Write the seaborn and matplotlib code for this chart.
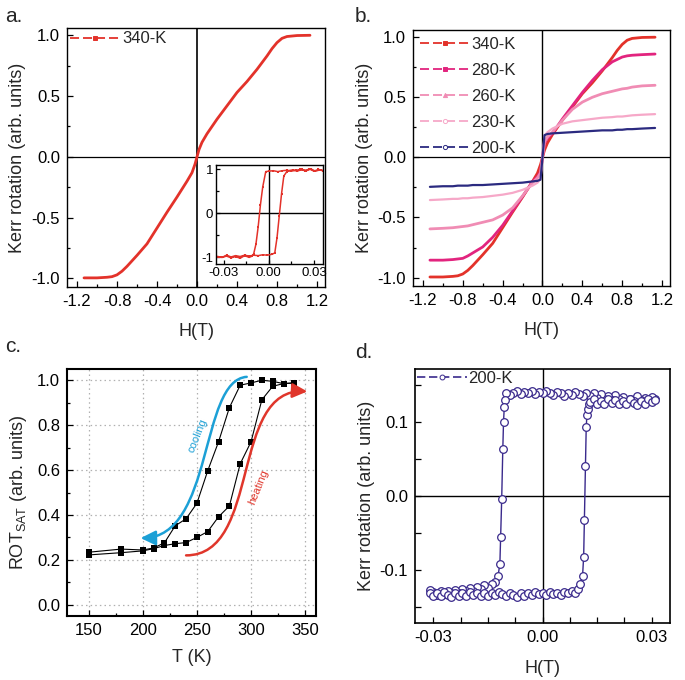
import numpy as np
import pandas as pd
import matplotlib
matplotlib.use('Agg')
import matplotlib.pyplot as plt
import seaborn as sns
from matplotlib.lines import Line2D
from matplotlib.patches import FancyArrowPatch
from matplotlib.path import Path
from matplotlib.ticker import MultipleLocator, AutoMinorLocator, FormatStrFormatter

# ---------------- data ----------------
# panels a/b : field sweep (T) and Kerr rotation
H_main = [-1.13, -1.0, -0.9, -0.85, -0.8, -0.75, -0.7, -0.6, -0.5, -0.4, -0.3, -0.2, -0.1, -0.05, -0.02,
          0.0, 0.02, 0.05, 0.1, 0.2, 0.3, 0.4, 0.5, 0.6, 0.7, 0.75, 0.8, 0.85, 0.9, 1.0, 1.13]
K340 = [-0.995, -0.995, -0.99, -0.985, -0.97, -0.94, -0.9, -0.81, -0.715, -0.585, -0.455, -0.33, -0.2, -0.13, -0.06,
        0.0, 0.06, 0.12, 0.19, 0.31, 0.42, 0.53, 0.62, 0.72, 0.83, 0.89, 0.94, 0.975, 0.99, 0.998, 1.0]
K280 = [-0.855, -0.855, -0.85, -0.845, -0.84, -0.82, -0.795, -0.745, -0.665, -0.565, -0.445, -0.325, -0.2, -0.16, -0.12,
        0.0, 0.12, 0.16, 0.2, 0.32, 0.43, 0.54, 0.64, 0.73, 0.795, 0.815, 0.835, 0.845, 0.85, 0.855, 0.86]
K260 = [-0.595, -0.59, -0.585, -0.58, -0.575, -0.57, -0.56, -0.54, -0.52, -0.48, -0.42, -0.32, -0.21, -0.17, -0.13,
        0.0, 0.13, 0.17, 0.21, 0.31, 0.40, 0.46, 0.50, 0.53, 0.55, 0.56, 0.57, 0.575, 0.585, 0.595, 0.60]
K230 = [-0.355, -0.35, -0.345, -0.345, -0.34, -0.34, -0.335, -0.33, -0.32, -0.31, -0.295, -0.27, -0.235, -0.21, -0.18,
        0.0, 0.18, 0.21, 0.24, 0.28, 0.30, 0.31, 0.32, 0.33, 0.335, 0.34, 0.34, 0.345, 0.35, 0.355, 0.36]
K200 = [-0.245, -0.24, -0.24, -0.235, -0.235, -0.235, -0.23, -0.23, -0.225, -0.22, -0.215, -0.21, -0.2, -0.195, -0.185,
        0.0, 0.185, 0.195, 0.2, 0.205, 0.21, 0.215, 0.22, 0.225, 0.225, 0.23, 0.23, 0.235, 0.235, 0.24, 0.245]
labels_b = ['340-K', '280-K', '260-K', '230-K', '200-K']

# inset of panel a (340-K, low field loop)
Hin_down = [0.036, 0.033, 0.030, 0.027, 0.024, 0.021, 0.018, 0.015, 0.012, 0.009, 0.006, 0.003, 0.000, -0.002,
            -0.004, -0.0055, -0.007, -0.0085, -0.010, -0.011, -0.013, -0.016, -0.019, -0.022, -0.025, -0.028, -0.031, -0.034]
Kin_down = [0.97, 1.0, 0.96, 1.01, 0.97, 1.0, 0.98, 0.96, 0.98, 0.97, 0.95, 0.97, 0.96, 0.95,
            0.6, 0.2, -0.3, -0.7, -0.92, -0.97, -1.0, -0.96, -1.02, -0.98, -1.01, -0.97, -1.0, -0.98]
Hin_up = [-0.034, -0.031, -0.028, -0.025, -0.022, -0.019, -0.016, -0.013, -0.010, -0.007, -0.004, -0.001,
          0.002, 0.004, 0.0055, 0.007, 0.0085, 0.010, 0.012, 0.013, 0.016, 0.019, 0.022, 0.025, 0.028, 0.031, 0.034, 0.036]
Kin_up = [-0.98, -1.0, -0.95, -0.99, -0.96, -0.98, -0.95, -0.97, -0.95, -0.96, -0.94, -0.95,
          -0.93, -0.9, -0.55, -0.05, 0.45, 0.85, 0.95, 0.97, 0.99, 0.96, 1.0, 0.97, 1.01, 0.96, 0.99, 0.97]

# panel c : saturation rotation vs temperature
T_heat = [150, 180, 200, 210, 220, 230, 240, 250, 260, 270, 280, 290, 300, 310, 320, 330, 340]
R_heat = [0.222, 0.232, 0.240, 0.250, 0.264, 0.272, 0.277, 0.300, 0.326, 0.392, 0.440, 0.628, 0.726, 0.913, 0.973, 0.985, 0.988]
T_cool = [340, 330, 320, 310, 300, 290, 280, 270, 260, 250, 240, 230, 220, 210, 200, 180, 150]
R_cool = [0.988, 0.985, 0.995, 1.0, 0.988, 0.978, 0.878, 0.726, 0.597, 0.452, 0.383, 0.352, 0.276, 0.253, 0.244, 0.248, 0.234]

# panel d : 200-K low-field loop
Hd_top_down = [0.031, 0.030, 0.029, 0.028, 0.027, 0.026, 0.025, 0.024, 0.023, 0.022, 0.021, 0.020, 0.019, 0.018,
               0.017, 0.016, 0.015, 0.014, 0.013, 0.012, 0.011, 0.010, 0.009, 0.008, 0.007, 0.006, 0.005, 0.004,
               0.003, 0.002, 0.001, 0.000, -0.001, -0.002, -0.003, -0.004, -0.005, -0.006, -0.007, -0.008, -0.009, -0.010]
Kd_top_down = [0.131, 0.134, 0.128, 0.133, 0.130, 0.136, 0.129, 0.132, 0.127, 0.134, 0.131, 0.137, 0.130, 0.135,
               0.132, 0.138, 0.133, 0.139, 0.135, 0.140, 0.136, 0.138, 0.141, 0.137, 0.140, 0.136, 0.139, 0.141,
               0.137, 0.140, 0.142, 0.139, 0.141, 0.138, 0.142, 0.139, 0.141, 0.138, 0.142, 0.140, 0.137, 0.139]
Hd_left = [-0.0104, -0.0105, -0.0107, -0.0109, -0.0112, -0.0115, -0.0117, -0.0122, -0.0130]
Kd_left = [0.130, 0.120, 0.100, 0.063, -0.004, -0.056, -0.092, -0.108, -0.117]
Hd_bot_down = [-0.014, -0.015, -0.016, -0.017, -0.018, -0.019, -0.020, -0.021, -0.022, -0.023, -0.024, -0.025,
               -0.026, -0.027, -0.028, -0.029, -0.030, -0.031]
Kd_bot_down = [-0.119, -0.124, -0.121, -0.126, -0.123, -0.128, -0.125, -0.129, -0.126, -0.131, -0.127, -0.132,
               -0.128, -0.133, -0.129, -0.134, -0.130, -0.127]
Hd_bot_up = [-0.031, -0.030, -0.029, -0.028, -0.027, -0.026, -0.025, -0.024, -0.023, -0.022, -0.021, -0.020,
             -0.019, -0.018, -0.017, -0.016, -0.015, -0.014, -0.013, -0.012, -0.011, -0.010, -0.009, -0.008,
             -0.007, -0.006, -0.005, -0.004, -0.003, -0.002, -0.001, 0.000, 0.001, 0.002, 0.003, 0.004,
             0.005, 0.006, 0.007, 0.008, 0.009]
Kd_bot_up = [-0.132, -0.136, -0.131, -0.135, -0.130, -0.134, -0.137, -0.131, -0.135, -0.132, -0.136, -0.130,
             -0.134, -0.131, -0.135, -0.132, -0.136, -0.131, -0.134, -0.130, -0.133, -0.136, -0.131, -0.134,
             -0.137, -0.132, -0.135, -0.131, -0.134, -0.130, -0.133, -0.131, -0.134, -0.130, -0.133, -0.131,
             -0.134, -0.130, -0.132, -0.129, -0.131]
Hd_right = [0.0098, 0.0104, 0.0110, 0.0113, 0.0115, 0.0118, 0.0120, 0.0122, 0.0124, 0.0128]
Kd_right = [-0.126, -0.119, -0.108, -0.082, -0.032, 0.041, 0.093, 0.110, 0.118, 0.124]
Hd_top_up = [0.013, 0.014, 0.015, 0.016, 0.017, 0.018, 0.019, 0.020, 0.021, 0.022, 0.023, 0.024, 0.025,
             0.026, 0.027, 0.028, 0.029, 0.030, 0.031]
Kd_top_up = [0.127, 0.131, 0.124, 0.129, 0.125, 0.132, 0.126, 0.130, 0.124, 0.129, 0.125, 0.131, 0.126,
             0.123, 0.129, 0.125, 0.131, 0.127, 0.130]

# ---------------- style ----------------
sns.set_theme(style='white')
plt.rcParams['font.family'] = ['Liberation Sans', 'DejaVu Sans']
plt.rcParams['mathtext.default'] = 'regular'
plt.rcParams['axes.unicode_minus'] = False
plt.rcParams['axes.edgecolor'] = 'black'

C340 = '#e3322a'
C280 = '#e2247e'
C260 = '#f08cb4'
C230 = '#f6a8c8'
C200 = '#2b2a80'
CD = '#3a2a8c'
CYAN = '#1ca0d6'
RED = '#e0362b'

FS = 12

fig = plt.figure(figsize=(6.85, 6.8), dpi=100)


def px_axes(l, t, r, b):
    W, Hh = 685.0, 680.0
    return fig.add_axes([l / W, 1 - b / Hh, (r - l) / W, (b - t) / Hh])


def style_axes(ax, lw=1.0):
    for s in ax.spines.values():
        s.set_linewidth(lw)
        s.set_color('black')
    ax.tick_params(which='both', direction='in', top=False, right=False, left=True, bottom=True,
                   colors='black', labelsize=FS, width=0.9)
    ax.tick_params(which='major', length=4, pad=5)
    ax.tick_params(which='minor', length=2.5)


def legend_handle(color, marker, mfc=None):
    return Line2D([0], [0], color=color, lw=1.3, ls=(0, (5, 2.2)), marker=marker, ms=3,
                  mfc=mfc if mfc else color, mec=color, mew=0.7)


# ---------------- panel a ----------------
axa = px_axes(67, 28, 325, 287)
sns.lineplot(x=H_main, y=K340, ax=axa, color=C340, lw=2.0, sort=False, estimator=None)
axa.axhline(0, color='black', lw=0.9, zorder=1)
axa.axvline(0, color='black', lw=1.2, zorder=1)
axa.set_xlim(-1.3, 1.28)
axa.set_ylim(-1.07, 1.06)
axa.xaxis.set_major_locator(MultipleLocator(0.4))
axa.xaxis.set_minor_locator(AutoMinorLocator(2))
axa.yaxis.set_major_locator(MultipleLocator(0.5))
axa.yaxis.set_minor_locator(AutoMinorLocator(2))
axa.xaxis.set_major_formatter(FormatStrFormatter('%.1f'))
axa.yaxis.set_major_formatter(FormatStrFormatter('%.1f'))
style_axes(axa)
axa.set_xlabel('H(T)', fontsize=FS + 1, labelpad=10)
axa.set_ylabel('Kerr rotation (arb. units)', fontsize=FS + 1, labelpad=4)
axa.legend(handles=[legend_handle(C340, 's')], labels=['340-K'], loc='upper left', frameon=False,
           fontsize=FS, handlelength=3.0, handletextpad=0.1, borderaxespad=0.1, borderpad=0.1)
fig.text(5 / 685, 1 - 17 / 680, 'a.', fontsize=15, va='center', ha='left')

# inset
axi = px_axes(216, 165, 323, 264)
sns.lineplot(x=Hin_down + Hin_up, y=Kin_down + Kin_up, ax=axi, color=C340, lw=1.1, sort=False,
             estimator=None, marker='s', markersize=2, markeredgewidth=0)
axi.axhline(0, color='black', lw=1.0, zorder=1)
axi.axvline(0, color='black', lw=1.0, zorder=1)
axi.set_xlim(-0.035, 0.036)
axi.set_ylim(-1.15, 1.1)
axi.set_xticks([-0.03, 0.0, 0.03])
axi.set_xticklabels(['-0.03', '0.00', '0.03'])
axi.set_yticks([-1, 0, 1])
axi.set_yticklabels(['-1', '0', '1'])
axi.xaxis.set_minor_locator(AutoMinorLocator(2))
axi.yaxis.set_minor_locator(AutoMinorLocator(2))
style_axes(axi, lw=1.0)
axi.tick_params(which='both', labelsize=9.5)
axi.tick_params(which='major', length=3, pad=2)
axi.tick_params(which='minor', length=2)
axi.set_xlabel('')
axi.set_ylabel('')

# ---------------- panel b ----------------
axb = px_axes(413, 30, 670, 286)
series_b = [K340, K280, K260, K230, K200]
colors_b = [C340, C280, C260, C230, C200]
widths_b = [2.0, 2.0, 2.0, 1.6, 1.6]
for k, c, w in zip(series_b, colors_b, widths_b):
    sns.lineplot(x=H_main, y=k, ax=axb, color=c, lw=w, sort=False, estimator=None)
axb.axhline(0, color='black', lw=0.9, zorder=1)
axb.axvline(0, color='black', lw=1.0, zorder=1)
axb.set_xlim(-1.3, 1.28)
axb.set_ylim(-1.07, 1.06)
axb.xaxis.set_major_locator(MultipleLocator(0.4))
axb.xaxis.set_minor_locator(AutoMinorLocator(2))
axb.yaxis.set_major_locator(MultipleLocator(0.5))
axb.yaxis.set_minor_locator(AutoMinorLocator(2))
axb.xaxis.set_major_formatter(FormatStrFormatter('%.1f'))
axb.yaxis.set_major_formatter(FormatStrFormatter('%.1f'))
style_axes(axb)
axb.set_xlabel('H(T)', fontsize=FS + 1, labelpad=10)
axb.set_ylabel('Kerr rotation (arb. units)', fontsize=FS + 1, labelpad=3)
markers_b = ['s', 's', '^', 'o', 'o']
mfcs_b = [None, None, None, 'white', 'white']
handles_b = [legend_handle(c, m, f) for c, m, f in zip(colors_b, markers_b, mfcs_b)]
axb.legend(handles=handles_b, labels=labels_b, loc='upper left', frameon=False, fontsize=FS,
           handlelength=3.0, handletextpad=0.1, borderaxespad=0.3, borderpad=0.1, labelspacing=0.66)
fig.text(355 / 685, 1 - 17 / 680, 'b.', fontsize=15, va='center', ha='left')

# ---------------- panel c ----------------
axc = px_axes(67, 369, 316, 616)
sns.lineplot(x=T_heat, y=R_heat, ax=axc, color='black', lw=0.8, sort=False, estimator=None,
             marker='s', markersize=5, markeredgewidth=0)
sns.lineplot(x=T_cool, y=R_cool, ax=axc, color='black', lw=0.8, sort=False, estimator=None,
             marker='s', markersize=5, markeredgewidth=0)
axc.set_xlim(130, 360)
axc.set_ylim(-0.05, 1.05)
axc.xaxis.set_major_locator(MultipleLocator(50))
axc.xaxis.set_minor_locator(AutoMinorLocator(2))
axc.yaxis.set_major_locator(MultipleLocator(0.2))
axc.yaxis.set_minor_locator(AutoMinorLocator(2))
axc.yaxis.set_major_formatter(FormatStrFormatter('%.1f'))
axc.grid(True, which='major', color='#b0b0b0', ls=(0, (1.2, 2.5)), lw=0.9)
axc.set_axisbelow(True)
style_axes(axc, lw=1.5)
axc.set_xlabel('T (K)', fontsize=FS + 1, labelpad=8)
axc.set_ylabel('ROT$_{SAT}$ (arb. units)', fontsize=FS + 1, labelpad=6)

cool_path = Path([(296, 1.015), (252, 1.0), (266, 0.30), (198, 0.297)],
                 [Path.MOVETO, Path.CURVE4, Path.CURVE4, Path.CURVE4])
heat_path = Path([(240, 0.22), (310, 0.22), (280, 0.97), (352, 0.95)],
                 [Path.MOVETO, Path.CURVE4, Path.CURVE4, Path.CURVE4])
for pth, col in [(cool_path, CYAN), (heat_path, RED)]:
    arr = FancyArrowPatch(path=pth, arrowstyle='-|>,head_length=0.45,head_width=0.22',
                          mutation_scale=20, color=col, lw=1.8, zorder=4)
    axc.add_patch(arr)
axc.text(251, 0.755, 'cooling', color=CYAN, fontsize=8, rotation=68, ha='center', va='center')
axc.text(307, 0.524, 'heating', color=RED, fontsize=8, rotation=68, ha='center', va='center')
fig.text(5 / 685, 1 - 347 / 680, 'c.', fontsize=15, va='center', ha='left')

# ---------------- panel d ----------------
axd = px_axes(415, 369, 670, 623)
Hd = Hd_top_down + Hd_left + Hd_bot_down + Hd_bot_up + Hd_right + Hd_top_up
Kd = Kd_top_down + Kd_left + Kd_bot_down + Kd_bot_up + Kd_right + Kd_top_up
sns.lineplot(x=Hd, y=Kd, ax=axd, color=CD, lw=1.0, sort=False, estimator=None,
             marker='o', markersize=5.5, markerfacecolor='white', markeredgecolor=CD, markeredgewidth=0.9)
axd.axhline(0, color='black', lw=1.0, zorder=1)
axd.axvline(0, color='black', lw=1.0, zorder=1)
axd.set_xlim(-0.035, 0.035)
axd.set_ylim(-0.172, 0.172)
axd.set_xticks([-0.03, 0.0, 0.03])
axd.set_xticklabels(['-0.03', '0.00', '0.03'])
axd.xaxis.set_minor_locator(AutoMinorLocator(4))
axd.set_yticks([-0.1, 0.0, 0.1])
axd.set_yticklabels(['-0.1', '0.0', '0.1'])
axd.yaxis.set_minor_locator(AutoMinorLocator(2))
style_axes(axd, lw=1.2)
axd.tick_params(which='minor', length=4)
axd.set_xlabel('H(T)', fontsize=FS + 1, labelpad=11)
axd.set_ylabel('Kerr rotation (arb. units)', fontsize=FS + 1, labelpad=3)
hd = Line2D([0], [0], color=CD, lw=1.2, ls=(0, (5, 2.2)), marker='o', ms=3.5, mfc='white', mec=CD, mew=0.7)
axd.legend(handles=[hd], labels=['200-K'], loc='upper left', frameon=False, fontsize=FS,
           handlelength=3.0, handletextpad=0.1, borderaxespad=0.05, borderpad=0.05)
fig.text(355 / 685, 1 - 352 / 680, 'd.', fontsize=15, va='center', ha='left')

fig.savefig('out.png', dpi=100)
